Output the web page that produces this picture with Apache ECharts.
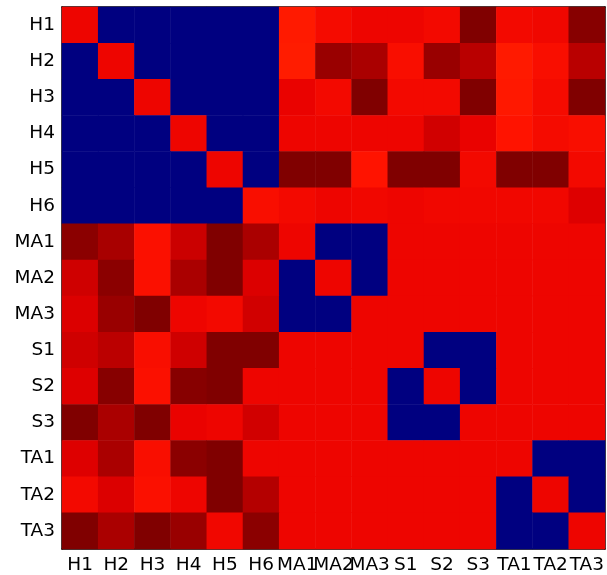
<!DOCTYPE html>
<html>
<head>
<meta charset="utf-8">
<script src="https://cdn.jsdelivr.net/npm/echarts@6/dist/echarts.min.js"></script>
<style>html,body{margin:0;padding:0;background:#fff}#c{width:607px;height:575px}</style>
</head>
<body>
<div id="c"></div>
<script>
const categories = ['H1','H2','H3','H4','H5','H6','MA1','MA2','MA3','S1','S2','S3','TA1','TA2','TA3'];
const rowH1  = [0.905,0,0,0,0,0,0.883,0.898,0.905,0.905,0.900,1.0,0.900,0.903,0.993];
const rowH2  = [0,0.905,0,0,0,0,0.880,0.978,0.963,0.895,0.978,0.950,0.883,0.895,0.950];
const rowH3  = [0,0,0.905,0,0,0,0.908,0.900,1.0,0.900,0.900,1.0,0.885,0.898,1.0];
const rowH4  = [0,0,0,0.905,0,0,0.905,0.905,0.905,0.905,0.930,0.908,0.890,0.898,0.895];
const rowH5  = [0,0,0,0,0.905,0,1.0,1.0,0.890,1.0,1.0,0.900,1.0,1.0,0.900];
const rowH6  = [0,0,0,0,0,0.895,0.900,0.905,0.902,0.905,0.902,0.902,0.902,0.902,0.918];
const rowMA1 = [0.990,0.965,0.893,0.935,1.0,0.963,0.905,0,0,0.905,0.905,0.905,0.905,0.905,0.905];
const rowMA2 = [0.932,0.990,0.893,0.963,1.0,0.920,0,0.905,0,0.905,0.905,0.905,0.905,0.905,0.905];
const rowMA3 = [0.920,0.978,1.0,0.905,0.900,0.930,0,0,0.905,0.905,0.905,0.905,0.905,0.905,0.905];
const rowS1  = [0.932,0.948,0.895,0.932,1.0,1.0,0.905,0.905,0.905,0.905,0,0,0.905,0.905,0.905];
const rowS2  = [0.918,0.993,0.893,0.993,1.0,0.905,0.905,0.905,0.905,0,0.905,0,0.905,0.905,0.905];
const rowS3  = [1.0,0.963,1.0,0.908,0.905,0.930,0.905,0.905,0.905,0,0,0.905,0.905,0.905,0.905];
const rowTA1 = [0.918,0.963,0.895,0.990,1.0,0.905,0.905,0.905,0.905,0.905,0.905,0.905,0.905,0,0];
const rowTA2 = [0.900,0.920,0.893,0.905,1.0,0.955,0.905,0.905,0.905,0.905,0.905,0.905,0,0.905,0];
const rowTA3 = [1.0,0.963,1.0,0.978,0.902,0.990,0.905,0.905,0.905,0.905,0.905,0.905,0,0,0.905];
const rows = [rowH1,rowH2,rowH3,rowH4,rowH5,rowH6,rowMA1,rowMA2,rowMA3,rowS1,rowS2,rowS3,rowTA1,rowTA2,rowTA3];

const data = [];
rows.forEach((r, y) => r.forEach((v, x) => data.push([x, y, v])));

// matplotlib 'jet' colormap stops (style)
function seg(pts, t){
  for (let i = 1; i < pts.length; i++) {
    if (t <= pts[i][0]) {
      const a = pts[i-1], b = pts[i];
      return a[1] + (b[1]-a[1]) * (t - a[0]) / (b[0] - a[0]);
    }
  }
  return pts[pts.length-1][1];
}
const R = [[0,0],[0.35,0],[0.66,1],[0.89,1],[1,0.5]];
const G = [[0,0],[0.125,0],[0.375,1],[0.64,1],[0.91,0],[1,0]];
const B = [[0,0.5],[0.11,1],[0.34,1],[0.65,0],[1,0]];
const jet = [];
for (let i = 0; i <= 200; i++) {
  const t = i / 200;
  const c = [seg(R,t), seg(G,t), seg(B,t)].map(v => Math.round(v*255));
  jet.push('rgb(' + c.join(',') + ')');
}

const font = 'DejaVu Sans';
const tickStyle = {show: true, inside: true, length: 5, alignWithLabel: true, lineStyle: {color: '#000', width: 1}};
const lineStyle = {show: true, lineStyle: {color: '#000', width: 1.5}};

const chart = echarts.init(document.getElementById('c'), null, {renderer: 'canvas'});
chart.setOption({
  backgroundColor: '#fff',
  animation: false,
  grid: {left: 62, top: 7, width: 543, height: 543, containLabel: false},
  xAxis: [
    {type: 'category', data: categories, position: 'bottom', boundaryGap: true,
     axisLine: lineStyle, axisTick: tickStyle, splitLine: {show: false},
     axisLabel: {interval: 0, color: '#000', fontFamily: font, fontSize: 18.5, margin: 7, hideOverlap: false}},
    {type: 'category', data: categories, position: 'top', boundaryGap: true,
     axisLine: lineStyle, axisTick: tickStyle, axisLabel: {show: false}, splitLine: {show: false}}
  ],
  yAxis: [
    {type: 'category', data: categories, inverse: true, position: 'left', boundaryGap: true,
     axisLine: lineStyle, axisTick: tickStyle, splitLine: {show: false},
     axisLabel: {interval: 0, color: '#000', fontFamily: font, fontSize: 18.5, margin: 7}},
    {type: 'category', data: categories, inverse: true, position: 'right', boundaryGap: true,
     axisLine: lineStyle, axisTick: tickStyle, axisLabel: {show: false}, splitLine: {show: false}}
  ],
  visualMap: {show: false, type: 'continuous', min: 0, max: 1, dimension: 2, inRange: {color: jet}},
  series: [{
    type: 'heatmap', data: data, xAxisIndex: 0, yAxisIndex: 0,
    itemStyle: {borderWidth: 0},
    emphasis: {disabled: true}, progressive: 0
  }]
});
</script>
</body>
</html>
